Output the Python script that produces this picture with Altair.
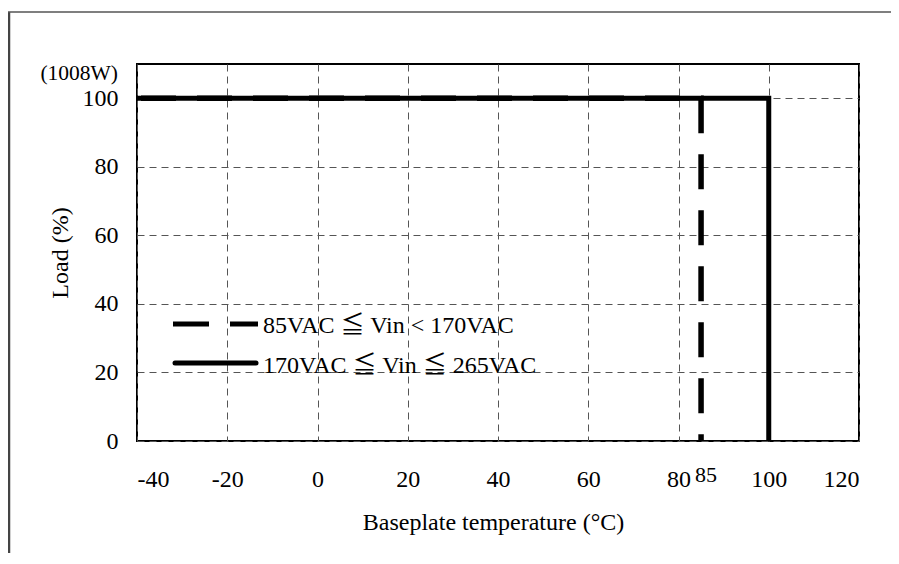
import altair as alt
import pandas as pd

# ---- data ----
temp_solid = [-40, 100, 100]
load_solid = [100, 100, 0]
temp_dash = [-40, 85, 85]
load_dash = [100, 100, 0]
x_ticks = [-40, -20, 0, 20, 40, 60, 80, 100, 120]
y_ticks = [0, 20, 40, 60, 80, 100]
legend_dash = "85VAC  \u2266 Vin < 170VAC"
legend_solid = "170VAC \u2266 Vin \u2266 265VAC"
extra_tick = 85
unit_label = "(1008W)"

FONT = "Liberation Serif"
FONT_LEG = "Liberation Serif, Noto Sans CJK JP"
W, H = 722, 377

solid_df = pd.DataFrame({"t": temp_solid, "load": load_solid, "i": range(len(temp_solid))})
dash_df = pd.DataFrame({"t": temp_dash, "load": load_dash, "i": range(len(temp_dash))})

xs = alt.Scale(domain=[-40, 120], nice=False, zero=False)
ys = alt.Scale(domain=[0, 110], nice=False, zero=False)

xax = alt.Axis(values=x_ticks, title="Baseplate temperature (\u00b0C)", labelPadding=26,
               labelExpr="toString(datum.value)",
               titleY=88, titleX=356, titleBaseline="alphabetic")
yax = alt.Axis(values=y_ticks, title="Load (%)", labelPadding=19, titleX=-70,
               titleY=H / 2, titleAngle=270, titleBaseline="alphabetic")

solid = alt.Chart(solid_df).mark_line(color="black", strokeWidth=5, strokeCap="butt",
                                      strokeJoin="miter").encode(
    x=alt.X("t:Q", scale=xs, axis=xax),
    y=alt.Y("load:Q", scale=ys, axis=yax),
    order="i:O",
)

dashed = alt.Chart(dash_df).mark_line(color="black", strokeWidth=5.5, strokeCap="butt",
                                      strokeDash=[35, 21], strokeDashOffset=52).encode(
    x=alt.X("t:Q", scale=xs),
    y=alt.Y("load:Q", scale=ys),
    order="i:O",
)

one = alt.Data(values=[{"k": 0}])

tick85 = alt.Chart(pd.DataFrame({"t": [extra_tick]})).mark_text(
    font=FONT, fontSize=22, color="black", baseline="alphabetic", dx=5
).encode(x=alt.X("t:Q", scale=xs), y=alt.value(H + 41), text=alt.Text("t:Q"))

unit = alt.Chart(one).mark_text(text=unit_label, font=FONT, fontSize=21.5, color="black",
                                align="right", baseline="alphabetic").encode(
    x=alt.value(-19), y=alt.value(16))

leg_dash = alt.Chart(one).mark_rule(color="black", strokeWidth=5, strokeDash=[36, 21],
                                    strokeCap="butt").encode(
    x=alt.value(36), x2=alt.value(121), y=alt.value(260))
leg_solid = alt.Chart(one).mark_rule(color="black", strokeWidth=5, strokeCap="round").encode(
    x=alt.value(38), x2=alt.value(119), y=alt.value(299))
leg_t1 = alt.Chart(one).mark_text(text=legend_dash, font=FONT_LEG, fontSize=24, color="black",
                                  align="left", baseline="alphabetic").encode(
    x=alt.value(126), y=alt.value(269))
leg_t2 = alt.Chart(one).mark_text(text=legend_solid, font=FONT_LEG, fontSize=24, color="black",
                                  align="left", baseline="alphabetic").encode(
    x=alt.value(126), y=alt.value(309))

frame_left = alt.Chart(one).mark_rule(color="#444", strokeWidth=2.5).encode(
    x=alt.value(-128), y=alt.value(-52), y2=alt.value(500))
frame_top = alt.Chart(one).mark_rule(color="#555", strokeWidth=1.5).encode(
    x=alt.value(-129), x2=alt.value(760), y=alt.value(-52))

chart = alt.layer(
    frame_left, frame_top, dashed, solid, tick85, unit, leg_dash, leg_solid, leg_t1, leg_t2
).properties(
    width=W, height=H,
    autosize=alt.AutoSizeParams(type="none"),
    padding={"left": 129, "top": 56, "right": 32, "bottom": 112},
    background="white",
).configure_view(
    stroke="black", strokeWidth=2
).configure_axis(
    labelFont=FONT, labelFontSize=24, labelColor="black",
    titleFont=FONT, titleFontSize=24, titleColor="black", titleFontWeight="normal",
    ticks=False, tickSize=0, domain=False,
    grid=True, gridColor="#555", gridWidth=1, gridDash=[7, 5], gridOpacity=1,
)

chart.save("out.html", embed_options={"renderer": "svg", "actions": False})
